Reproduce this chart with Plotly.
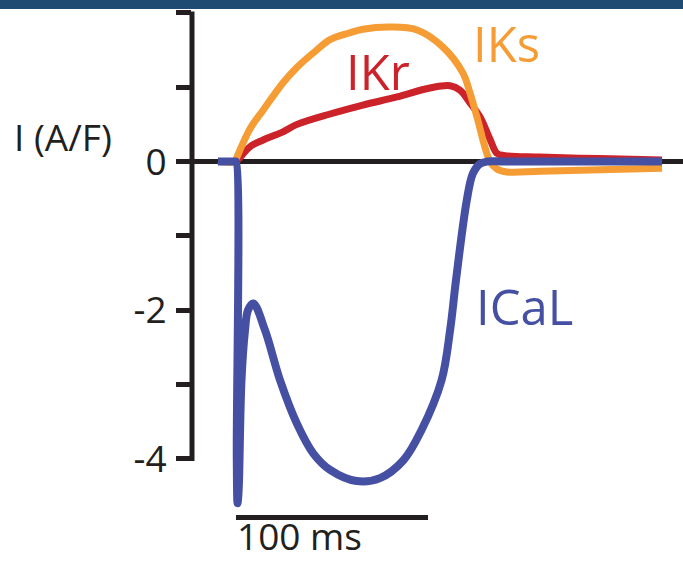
import plotly.graph_objects as go

# Membrane currents during the action potential (time in ms, current in A/F)
ikr_t = [-9.4, -0.5, 0.0, 7.3, 14.1, 24.5, 31.8, 49.0, 66.1, 83.9, 101.0, 111.5,
         116.7, 121.9, 127.1, 132.3, 135.9, 140.0, 158.0, 189.6, 221.9]
ikr_v = [0.0, 0.0, 0.0, 0.20, 0.29, 0.40, 0.50, 0.64, 0.76, 0.87, 0.99, 1.02,
         0.96, 0.79, 0.60, 0.30, 0.11, 0.08, 0.06, 0.04, 0.02]

iks_t = [-9.4, -0.5, 0.0, 7.3, 14.1, 24.5, 31.8, 42.0, 49.0, 59.0, 66.1, 80.2, 94.3,
         107.8, 118.2, 121.9, 125.5, 132.3, 135.9, 141.1, 158.3, 189.6, 221.9]
iks_v = [0.0, 0.0, 0.03, 0.44, 0.69, 1.06, 1.27, 1.50, 1.64, 1.73, 1.78, 1.81, 1.77,
         1.54, 1.19, 0.92, 0.60, 0.0, -0.10, -0.14, -0.13, -0.11, -0.09]

ical_t = [-9.4, -0.5, 0.0, 0.4, 0.8, 1.2, 1.56, 2.86, 4.69, 6.25, 9.0, 15.1, 22.9,
          31.6, 40.3, 49.0, 62.8, 75.0, 87.2, 96.7, 107.1, 111.5, 114.6, 120.2,
          123.4, 127.1, 130.7, 140.0, 221.9]
ical_v = [0.0, 0.0, 0.0, -4.0, -4.6, -4.5, -4.3, -2.94, -2.27, -2.0, -1.91, -2.27,
          -2.94, -3.52, -3.93, -4.15, -4.30, -4.26, -4.02, -3.61, -2.94, -2.27,
          -1.59, -0.52, -0.16, -0.03, 0.0, 0.0, 0.0]

tick_vals = [2, 1, 0, -1, -2, -3, -4]
tick_text = ["2", "", "0", "", "-2", "", "-4"]

scale_len_ms = 100

ORANGE = "#f59c35"
RED = "#cc2229"
BLUE = "#4550a3"
INK = "#231f20"
FONT = "Open Sans"

fig = go.Figure()
fig.add_trace(go.Scatter(x=ikr_t, y=ikr_v, mode="lines", name="IKr",
                         line=dict(color=RED, width=7, shape="spline", smoothing=1.0)))
fig.add_trace(go.Scatter(x=iks_t, y=iks_v, mode="lines", name="IKs",
                         line=dict(color=ORANGE, width=7, shape="spline", smoothing=1.0)))
fig.add_trace(go.Scatter(x=ical_t, y=ical_v, mode="lines", name="ICaL",
                         line=dict(color=BLUE, width=8, shape="spline", smoothing=1.0)))

# y axis spine from -4 to 2
fig.add_shape(type="line", xref="paper", yref="y", x0=0, x1=0, y0=-4.03, y1=2.02,
              line=dict(color=INK, width=5), layer="below")

# 100 ms scale bar
fig.add_shape(type="line", xref="x", yref="y", x0=0, x1=scale_len_ms, y0=-4.79, y1=-4.79,
              line=dict(color=INK, width=5))
fig.add_annotation(x=0, y=0, xref="x", yref="paper", text=f"{scale_len_ms} ms",
                   showarrow=False, xanchor="left", yanchor="bottom", borderpad=0,
                   font=dict(family=FONT, size=37, color=INK))

# series labels
fig.add_annotation(x=122.5, y=1.60, text="IKs", showarrow=False, xanchor="left",
                   yanchor="middle", font=dict(family=FONT, size=49, color=ORANGE))
fig.add_annotation(x=56.5, y=1.22, text="IKr", showarrow=False, xanchor="left",
                   yanchor="middle", font=dict(family=FONT, size=49, color=RED))
fig.add_annotation(x=124.0, y=-1.95, text="ICaL", showarrow=False, xanchor="left",
                   yanchor="middle", font=dict(family=FONT, size=49, color=BLUE))

# axis title
fig.add_annotation(x=-0.366, y=1 - 136.5 / 562, xref="paper", yref="paper",
                   text="I (A/F)", showarrow=False, xanchor="left", yanchor="middle",
                   font=dict(family=FONT, size=37, color=INK))

# header band
fig.add_shape(type="rect", xref="paper", yref="paper", x0=-1, x1=1.1,
              y0=1 - 9 / 562, y1=1.01, fillcolor="#1f4a72", line=dict(width=0),
              layer="above")

fig.update_layout(
    width=683, height=562,
    margin=dict(l=192, r=0, t=0, b=0),
    paper_bgcolor="white", plot_bgcolor="white",
    showlegend=False,
    xaxis=dict(range=[-22.92, 232.81], visible=False, fixedrange=True),
    yaxis=dict(range=[-5.389, 2.174], tickvals=tick_vals, ticktext=tick_text,
               ticks="outside", ticklen=15, tickwidth=5, tickcolor=INK,
               showgrid=False, showline=False,
               zeroline=True, zerolinecolor=INK, zerolinewidth=5,
               tickfont=dict(family=FONT, size=37, color=INK),
               ticklabelstandoff=2, fixedrange=True),
)

fig.write_html("out.html")
